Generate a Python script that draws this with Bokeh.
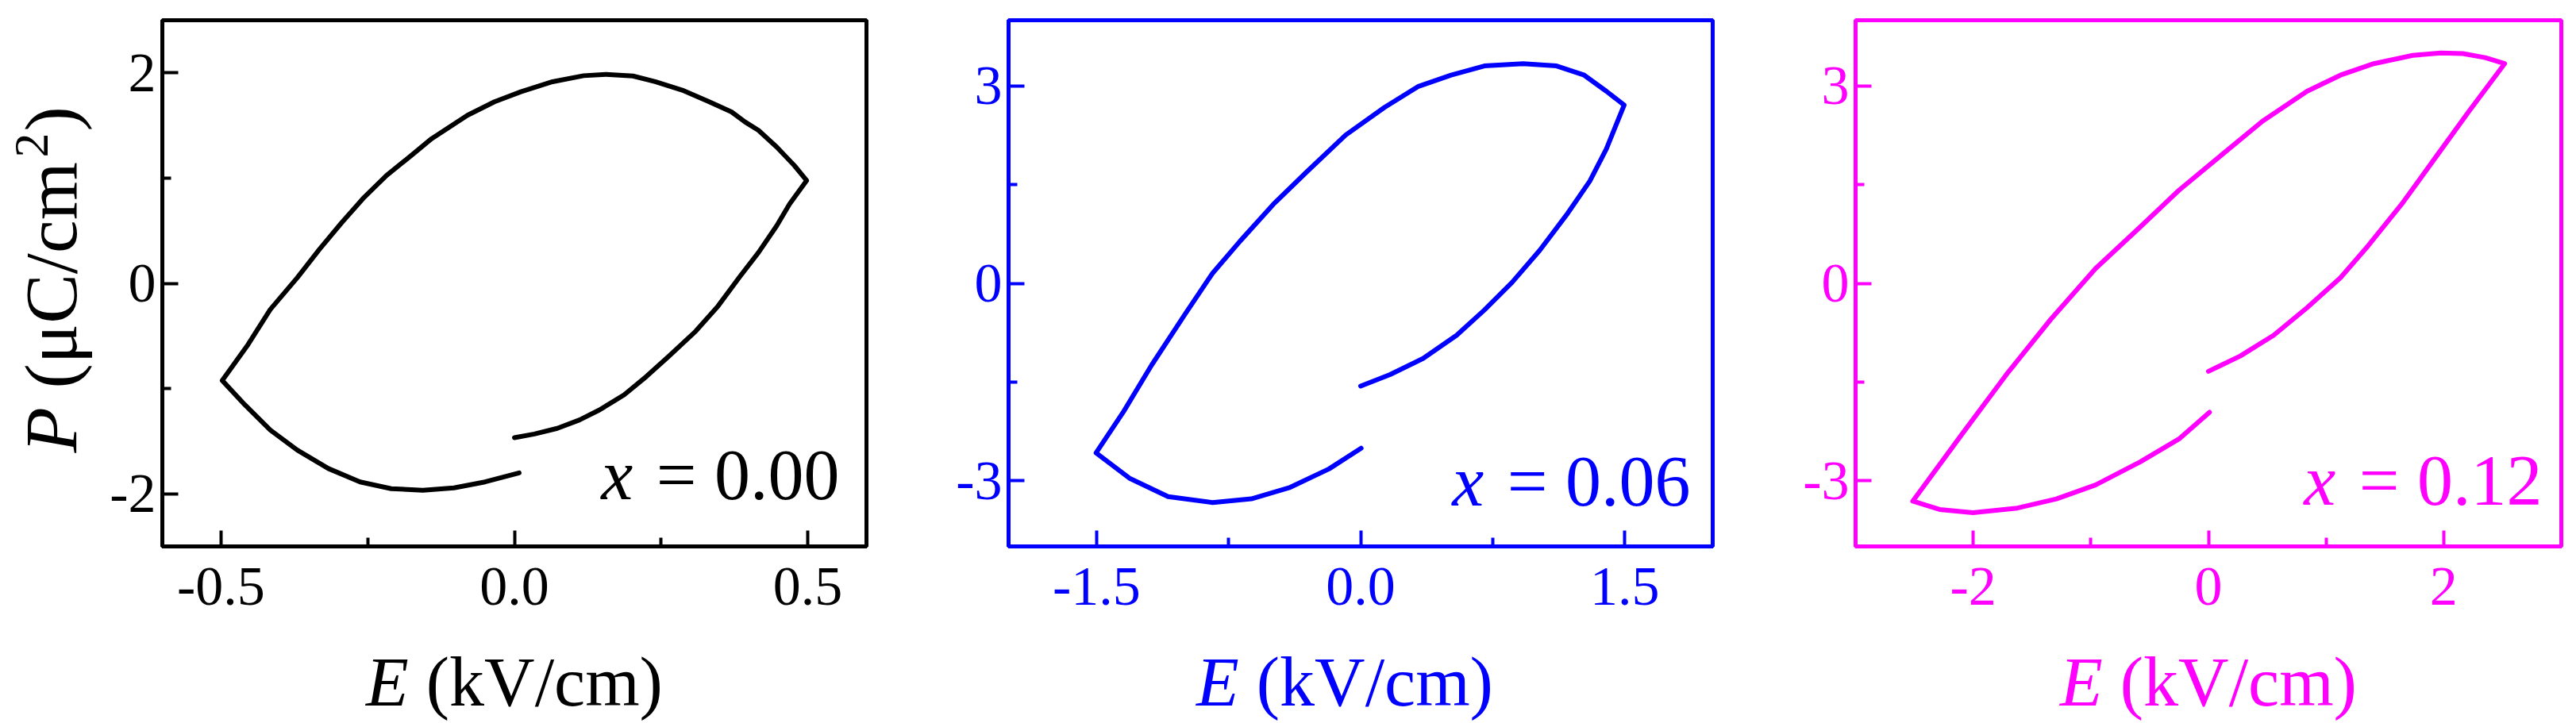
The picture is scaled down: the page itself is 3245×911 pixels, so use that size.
import math
from bokeh.plotting import figure
from bokeh.layouts import row, column
from bokeh.models import Range1d, FixedTicker, PrintfTickFormatter, Label
from bokeh.core.properties import value
from bokeh.embed import file_html
from bokeh.resources import INLINE

# ---- data ----
E0 = [0.000, 0.034, 0.073, 0.111, 0.145, 0.187, 0.225, 0.263, 0.309, 0.347, 0.385,
      0.416, 0.447, 0.469, 0.498,
      0.477, 0.447, 0.416, 0.393, 0.370, 0.332, 0.286, 0.240, 0.202, 0.156, 0.118,
      0.065, 0.011, -0.034, -0.080, -0.141, -0.172, -0.218, -0.256, -0.294, -0.332,
      -0.370, -0.416, -0.454, -0.498,
      -0.462, -0.416, -0.370, -0.317, -0.263, -0.210, -0.156, -0.103, -0.050, 0.008]
P0 = [-1.467, -1.432, -1.378, -1.298, -1.203, -1.060, -0.885, -0.694, -0.455, -0.216, 0.070,
      0.293, 0.547, 0.754, 0.977,
      1.120, 1.295, 1.454, 1.534, 1.629, 1.725, 1.836, 1.916, 1.970, 1.986, 1.973,
      1.916, 1.820, 1.725, 1.597, 1.375, 1.232, 1.025, 0.818, 0.579, 0.325,
      0.054, -0.248, -0.582, -0.923,
      -1.139, -1.394, -1.585, -1.760, -1.887, -1.951, -1.967, -1.944, -1.887, -1.801]

E6 = [0.000, 0.167, 0.356, 0.545, 0.703, 0.860, 1.018, 1.176, 1.302, 1.396, 1.497,
      1.396, 1.270, 1.113, 0.923, 0.703, 0.514, 0.325, 0.136, -0.085, -0.306, -0.495,
      -0.684, -0.841, -0.999, -1.188, -1.346, -1.503,
      -1.314, -1.094, -0.841, -0.621, -0.400, -0.180, 0.003]
P6 = [-1.562, -1.387, -1.141, -0.791, -0.406, 0.014, 0.504, 1.064, 1.555, 2.045, 2.710,
      2.920, 3.165, 3.305, 3.340, 3.305, 3.165, 2.990, 2.675, 2.255, 1.695, 1.204,
      0.644, 0.154, -0.476, -1.246, -1.947, -2.577,
      -2.962, -3.242, -3.333, -3.277, -3.102, -2.822, -2.507]

E12 = [0.000, 0.270, 0.554, 0.838, 1.122, 1.359, 1.643, 1.927, 2.211, 2.518,
       2.353, 2.163, 1.974, 1.737, 1.406, 1.122, 0.838, 0.459, 0.080, -0.251, -0.582,
       -0.961, -1.340, -1.718, -2.097, -2.514,
       -2.286, -2.002, -1.624, -1.292, -0.961, -0.582, -0.251, 0.009]
P12 = [-1.338, -1.106, -0.791, -0.371, 0.084, 0.574, 1.204, 1.905, 2.605, 3.340,
       3.431, 3.494, 3.501, 3.466, 3.340, 3.165, 2.920, 2.465, 1.905, 1.415, 0.854,
       0.224, -0.546, -1.387, -2.297, -3.312,
       -3.438, -3.487, -3.417, -3.277, -3.067, -2.717, -2.367, -1.961]

x_labels = ["0.00", "0.06", "0.12"]
colors = ["#000000", "#0000FF", "#FF00FF"]
x_ranges = [(-0.6, 0.6), (-2.0, 2.0), (-3.0, 3.0)]
y_ranges = [(-2.5, 2.5), (-4.0, 4.0), (-4.0, 4.0)]
x_major = [[-0.5, 0.0, 0.5], [-1.5, 0.0, 1.5], [-2, 0, 2]]
x_minor = [[-0.25, 0.25], [-0.75, 0.75], [-1, 1]]
y_major = [[-2, 0, 2], [-3, 0, 3], [-3, 0, 3]]
y_minor = [[-1, 1], [-1.5, 1.5], [-1.5, 1.5]]
x_fmt = ["%.1f", "%.1f", "%d"]
series = [(E0, P0), (E6, P6), (E12, P12)]

FONT = "Liberation Serif"
YLAB_W = 125
borders_left = [79, 159, 160]
borders_right = [20, 20, 10]
frame_w = [887, 887, 889]
xlabel_shift = [0, -20, 0]
TOP, FRAME_H, BOTTOM = 25, 663, 100
PLOT_H = TOP + FRAME_H + BOTTOM
LAB_H = 122
TOTAL_H = PLOT_H + LAB_H


def fix(fs):
    # baseline correction (px) observed for Bokeh's "alphabetic" baseline
    return 0.3 * fs


def add_label(p, x, y, text, xo, yo, size, color, style, align):
    p.add_layout(Label(x=x, y=y, x_offset=xo, y_offset=yo, text=text,
                       text_font=FONT, text_font_size=f"{size}px",
                       text_color=color, text_font_style=style,
                       text_align=align, text_baseline="alphabetic"))


def blank_fig(w, h, xr, yr, bl, br):
    f = figure(width=w, height=h, x_range=xr, y_range=yr,
               output_backend="svg", toolbar_location=None,
               x_axis_location=None, y_axis_location=None,
               min_border_left=bl, min_border_right=br,
               min_border_top=0, min_border_bottom=0)
    f.grid.visible = False
    f.outline_line_color = None
    f.background_fill_color = "white"
    f.border_fill_color = "white"
    return f


cols = []
for i in range(3):
    c = colors[i]
    w = borders_left[i] + frame_w[i] + borders_right[i]
    p = figure(width=w, height=PLOT_H,
               x_range=Range1d(*x_ranges[i]), y_range=Range1d(*y_ranges[i]),
               output_backend="svg", toolbar_location=None,
               min_border_left=borders_left[i], min_border_right=borders_right[i],
               min_border_top=TOP, min_border_bottom=BOTTOM)
    p.grid.visible = False
    p.outline_line_color = c
    p.outline_line_width = 5
    p.outline_line_alpha = 1.0
    p.background_fill_color = "white"
    p.border_fill_color = "white"

    E, P = series[i]
    p.line(E, P, line_color=c, line_width=6, line_join="round", line_cap="round")

    for ax in (p.xaxis[0], p.yaxis[0]):
        ax.axis_line_color = c
        ax.axis_line_width = 5
        ax.major_tick_line_color = c
        ax.major_tick_line_width = 4
        ax.minor_tick_line_color = c
        ax.minor_tick_line_width = 4
        ax.major_tick_in = 20
        ax.major_tick_out = 0
        ax.minor_tick_in = 11
        ax.minor_tick_out = 0
        ax.major_label_text_color = c
        ax.major_label_text_font = FONT
        ax.major_label_text_font_size = "70px"
    p.xaxis.ticker = FixedTicker(ticks=x_major[i], minor_ticks=x_minor[i])
    p.yaxis.ticker = FixedTicker(ticks=y_major[i], minor_ticks=y_minor[i])
    p.xaxis.formatter = PrintfTickFormatter(format=x_fmt[i])
    p.yaxis.formatter = PrintfTickFormatter(format="%d")
    p.xaxis.major_label_standoff = 27
    p.yaxis.major_label_standoff = 8

    x0, x1 = x_ranges[i]
    y0, y1 = y_ranges[i]

    # composition label  "x = 0.00"
    fs2 = 90
    rgap = [34, 28, 24][i]
    yb = [63, 55, 56][i] + fix(fs2)
    add_label(p, x1, y0, "= " + x_labels[i], -rgap, yb, fs2, c, "normal", "right")
    add_label(p, x1, y0, "x", -rgap - (2.564 + 0.25) * fs2 - 7, yb, fs2, c, "italic", "right")

    # x-axis title panel: italic E + upright unit
    lab = blank_fig(w, LAB_H, Range1d(*x_ranges[i]), Range1d(0, LAB_H),
                    borders_left[i], borders_right[i])
    fs = 88
    total = 4.249 * fs
    bnd = -total / 2 + 0.611 * fs + xlabel_shift[i]
    xc = (x0 + x1) / 2
    base_y = LAB_H - 97 + fix(fs)
    lab.text(x=[xc], y=[base_y], text=["E"], x_offset=bnd, text_color=c,
             text_font=value(FONT), text_font_size="88px", text_font_style="italic",
             text_align="right", text_baseline="alphabetic")
    lab.text(x=[xc], y=[base_y], text=["(kV/cm)"], x_offset=bnd + 0.25 * fs, text_color=c,
             text_font=value(FONT), text_font_size="88px", text_font_style="normal",
             text_align="left", text_baseline="alphabetic")

    cols.append(column(p, lab, spacing=0))

# y-axis title panel for the first plot: italic P, unit, raised superscript 2
ylab = blank_fig(YLAB_W, TOTAL_H, Range1d(0, YLAB_W), Range1d(0, TOTAL_H), 0, 0)
fsy, fss = 94, 62
baseline_x = 92
y_p = TOTAL_H - 570
y_unit = y_p + (0.611 + 0.25) * fsy
y_sup = y_unit + 3.076 * fsy + 2
y_close = y_sup + 0.5 * fss + 2
rot = math.pi / 2
common = dict(angle=rot, text_color=colors[0], text_font=value(FONT),
              text_align="left", text_baseline="alphabetic")
ylab.text(x=[baseline_x - fix(fsy)], y=[y_p], text=["P"], text_font_size=f"{fsy}px",
          text_font_style="italic", **common)
ylab.text(x=[baseline_x - fix(fsy)], y=[y_unit], text=["(μC/cm"], text_font_size=f"{fsy}px",
          text_font_style="normal", **common)
ylab.text(x=[baseline_x - 34 - fix(fss)], y=[y_sup], text=["2"], text_font_size=f"{fss}px",
          text_font_style="normal", **common)
ylab.text(x=[baseline_x - fix(fsy)], y=[y_close], text=[")"], text_font_size=f"{fsy}px",
          text_font_style="normal", **common)

layout = row(ylab, *cols, spacing=0)
open("out.html", "w").write(file_html(layout, INLINE))
